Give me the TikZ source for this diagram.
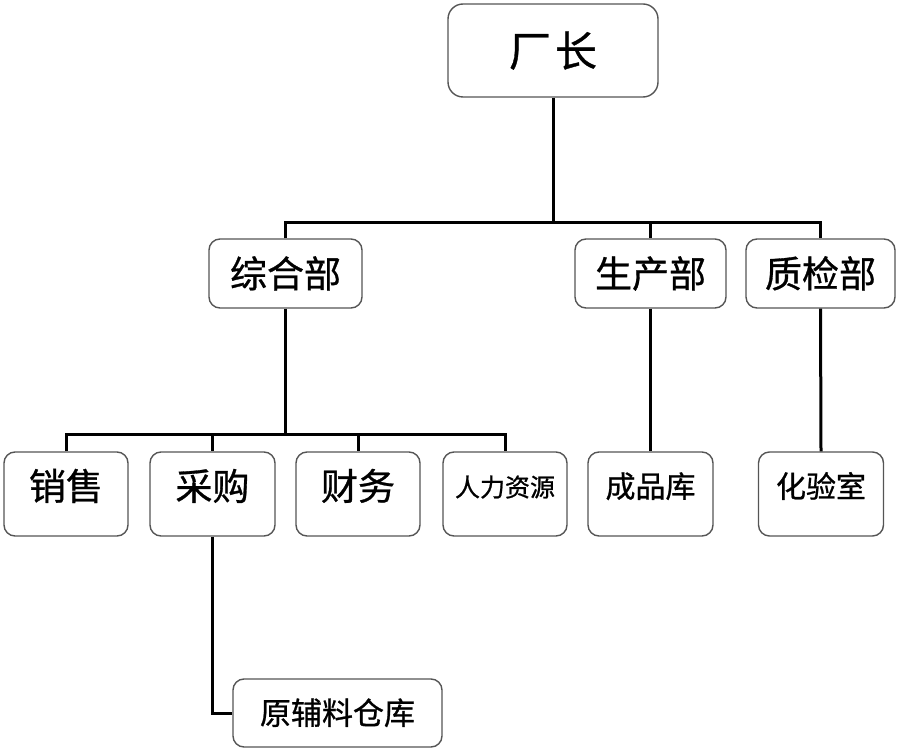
\documentclass[tikz,border=0pt]{standalone}
\usepackage{fontspec}
\newfontfamily\cjk[FakeBold=0.8]{Noto Sans CJK SC}
\definecolor{boxgray}{HTML}{555555}
\begin{document}
\begin{tikzpicture}[x=1pt,y=-1pt,
  box/.style={draw=boxgray, line width=1.4pt, rounded corners=11pt, fill=white, inner sep=0pt, align=center},
  fs/.style={font={\cjk\fontsize{#1}{#1}\selectfont}},
  wire/.style={line width=3pt, black}]
\useasboundingbox (0,0) rectangle (899,751);
% top
\node[box, rounded corners=15pt, minimum width=210pt, minimum height=93pt, fs=42pt, text height=37pt, text depth=5pt] (boss) at (553,50.5) {厂\hspace{4pt}长};
% level 2
\node[box, minimum width=153pt, minimum height=69pt, fs=37pt, text height=32.5pt, text depth=4.5pt] (zh) at (285.5,273.5) {综合部};
\node[box, minimum width=151pt, minimum height=69pt, fs=37pt, text height=32.5pt, text depth=4.5pt] (sc) at (650.5,273.5) {生产部};
\node[box, minimum width=149pt, minimum height=69pt, fs=37pt, text height=32.5pt, text depth=4.5pt] (zj) at (820.5,273.5) {质检部};
% level 3
\node[box, minimum width=124pt, minimum height=84pt, fs=37pt, text height=30pt, text depth=18pt] (xs) at (66,494) {销售};
\node[box, minimum width=125pt, minimum height=84pt, fs=37pt, text height=30pt, text depth=18pt] (cg) at (212.5,494) {采购};
\node[box, minimum width=124pt, minimum height=84pt, fs=37pt, text height=30pt, text depth=18pt] (cw) at (358,494) {财务};
\node[box, minimum width=124pt, minimum height=84pt, fs=25pt, text height=22pt, text depth=17pt] (rl) at (505,494) {人力资源};
\node[box, minimum width=125pt, minimum height=84pt, fs=30pt, text height=26pt, text depth=19pt] (cp) at (650.5,494) {成品库};
\node[box, minimum width=125pt, minimum height=84pt, fs=30pt, text height=26pt, text depth=19pt] (hy) at (821,494) {化验室};
% level 4
\node[box, minimum width=209pt, minimum height=68pt, fs=31pt, text height=27pt, text depth=4pt] (yf) at (337.5,713) {原辅料仓库};
% junctions
\coordinate (j1) at (553,223);
\coordinate (j2) at (285.5,434);
% connectors
\draw[wire] (boss.south) -- (j1);
\draw[wire] (zh.north) |- (j1) -| (zj.north);
\draw[wire] (j1) -| (sc.north);
\draw[wire] (zh.south) -- (j2);
\draw[wire] (xs.north) |- (j2) -| (rl.north);
\draw[wire] (j2) -| (cg.north);
\draw[wire] (j2) -| (cw.north);
\draw[wire] (sc.south) -- (cp.north);
\draw[wire] (zj.south) -- (hy.north);
\draw[wire] (cg.south) |- (yf.west);
\end{tikzpicture}
\end{document}
